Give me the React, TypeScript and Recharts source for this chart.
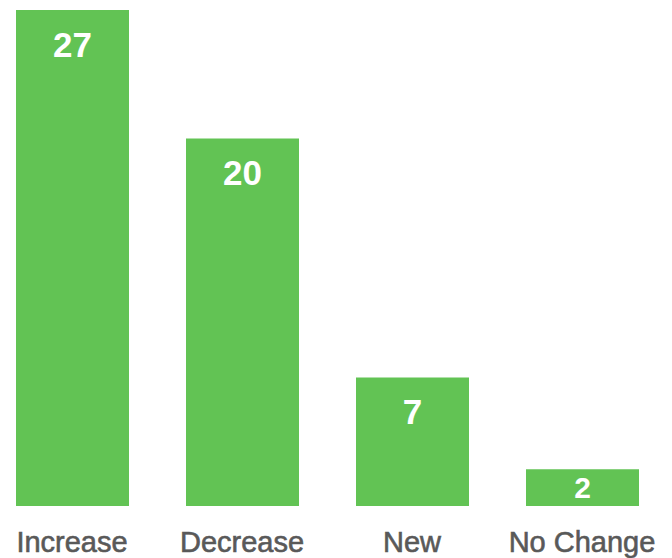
import React from "react";
import { BarChart, Bar, XAxis, YAxis, LabelList } from "recharts";

const categories = ["Increase", "Decrease", "New", "No Change"];
const counts = [27, 20, 7, 2];

const data = categories.map((name, i) => ({ name, value: counts[i] }));

const GREEN = "#62c354";
const TEXT = "#595959";

const ValueLabel = (props: any) => {
  const { x, y, width, height, value } = props;
  const cx = x + width / 2;
  const small = height < 60;
  const fontSize = small ? 30 : 35;
  const ty = small ? y + height / 2 + 10.5 : y + 46.5;
  return (
    <text
      x={cx}
      y={ty}
      textAnchor="middle"
      fill="#ffffff"
      fontFamily="'Liberation Sans', Arial, sans-serif"
      fontWeight="bold"
      fontSize={fontSize}
    >
      {value}
    </text>
  );
};

const CategoryTick = (props: any) => {
  const { x, y, payload } = props;
  return (
    <text
      x={x}
      y={y + 46}
      textAnchor="middle"
      fill={TEXT}
      stroke={TEXT}
      strokeWidth={0.6}
      fontFamily="'Liberation Sans', Arial, sans-serif"
      fontSize={29}
    >
      {payload.value}
    </text>
  );
};

export default function App() {
  return (
    <div style={{ position: "absolute", left: -13.5, top: 0 }}>
      <BarChart
        width={680}
        height={558}
        data={data}
        margin={{ top: 10, right: 0, bottom: 0, left: 0 }}
      >
        <XAxis
          dataKey="name"
          axisLine={false}
          tickLine={false}
          tickSize={0}
          tickMargin={0}
          height={52}
          interval={0}
          tick={<CategoryTick />}
        />
        <YAxis hide domain={[0, 27]} />
        <Bar dataKey="value" fill={GREEN} barSize={113} isAnimationActive={false}>
          <LabelList dataKey="value" content={<ValueLabel />} />
        </Bar>
      </BarChart>
    </div>
  );
}
